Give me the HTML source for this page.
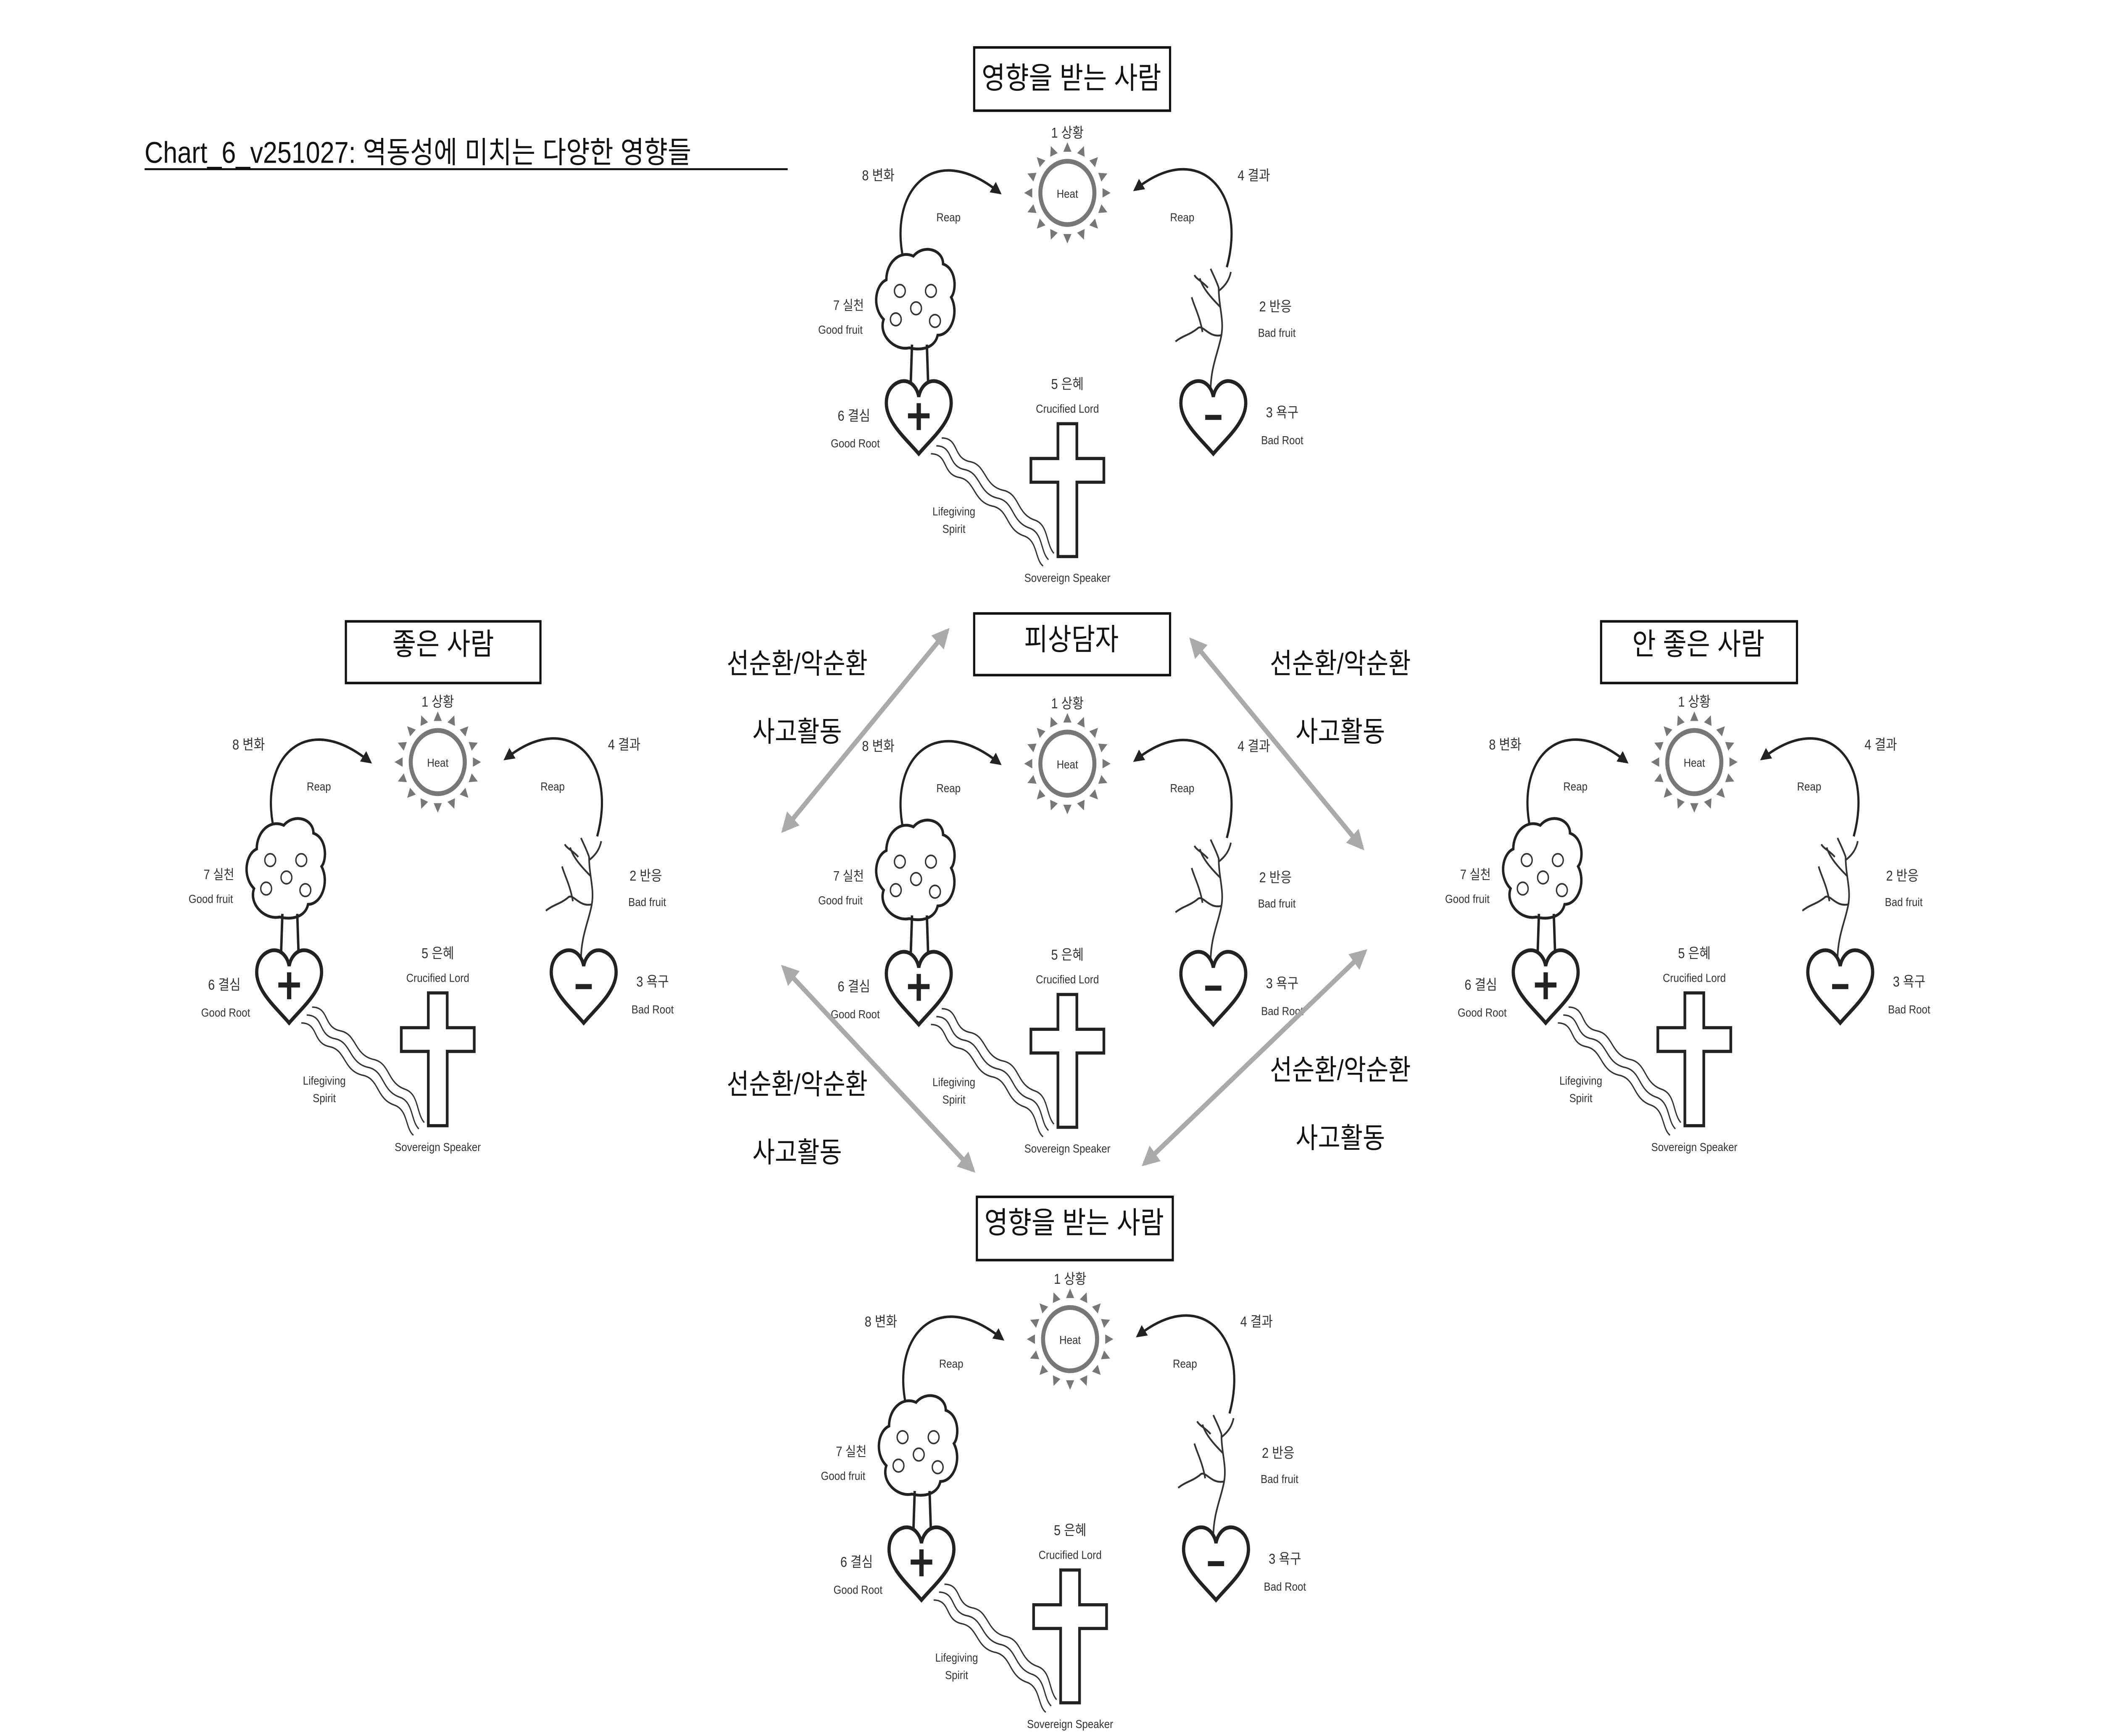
<!DOCTYPE html>
<html><head><meta charset="utf-8"><style>
html,body{margin:0;padding:0;background:#fff;width:100%;height:100%;overflow:hidden;}
svg{display:block;position:absolute;left:0;top:0;width:100vw;height:100vh;}
text{font-family:"Liberation Sans","Noto Sans CJK KR",sans-serif;}
</style></head><body>
<svg viewBox="0 0 1555 1098" preserveAspectRatio="none" xmlns="http://www.w3.org/2000/svg">
<defs>
<marker id="ah" viewBox="0 0 10 10" refX="8" refY="5" markerWidth="5" markerHeight="5" orient="auto"><path d="M0,0 L10,5 L0,10 Z" fill="#222"/></marker>
<marker id="ga" viewBox="0 0 10 10" refX="8" refY="5" markerWidth="4" markerHeight="4" orient="auto-start-reverse"><path d="M0,0 L10,5 L0,10 Z" fill="#aaa"/></marker>
<g id="cl">
<text x="0" y="-35" font-size="9" text-anchor="middle" fill="#333">1 상황</text>
<circle cx="0" cy="0" r="20" fill="none" stroke="#777" stroke-width="3"/>
<text x="0" y="3" font-size="7.5" text-anchor="middle" fill="#333">Heat</text>
<g fill="#777">
<path d="M-3,-26 L3,-26 L0,-32 Z"/>
<path d="M-3,-26 L3,-26 L0,-32 Z" transform="rotate(22.5)"/>
<path d="M-3,-26 L3,-26 L0,-32 Z" transform="rotate(45)"/>
<path d="M-3,-26 L3,-26 L0,-32 Z" transform="rotate(67.5)"/>
<path d="M-3,-26 L3,-26 L0,-32 Z" transform="rotate(90)"/>
<path d="M-3,-26 L3,-26 L0,-32 Z" transform="rotate(112.5)"/>
<path d="M-3,-26 L3,-26 L0,-32 Z" transform="rotate(135)"/>
<path d="M-3,-26 L3,-26 L0,-32 Z" transform="rotate(157.5)"/>
<path d="M-3,-26 L3,-26 L0,-32 Z" transform="rotate(180)"/>
<path d="M-3,-26 L3,-26 L0,-32 Z" transform="rotate(202.5)"/>
<path d="M-3,-26 L3,-26 L0,-32 Z" transform="rotate(225)"/>
<path d="M-3,-26 L3,-26 L0,-32 Z" transform="rotate(247.5)"/>
<path d="M-3,-26 L3,-26 L0,-32 Z" transform="rotate(270)"/>
<path d="M-3,-26 L3,-26 L0,-32 Z" transform="rotate(292.5)"/>
<path d="M-3,-26 L3,-26 L0,-32 Z" transform="rotate(315)"/>
<path d="M-3,-26 L3,-26 L0,-32 Z" transform="rotate(337.5)"/>
</g>
<text x="-140" y="-8" font-size="9" text-anchor="middle" fill="#333">8 변화</text>
<text x="138" y="-8" font-size="9" text-anchor="middle" fill="#333">4 결과</text>
<text x="-88" y="18" font-size="7.5" text-anchor="middle" fill="#333">Reap</text>
<text x="85" y="18" font-size="7.5" text-anchor="middle" fill="#333">Reap</text>
<path d="M-120,47 C-135,0 -100,-35 -50,0" fill="none" stroke="#222" stroke-width="1.6" marker-end="url(#ah)"/>
<path d="M118,47 C133,0 98,-35 50,-2" fill="none" stroke="#222" stroke-width="1.6" marker-end="url(#ah)"/>
<path d="M-117,98 C-128,100 -140,90 -136,80 C-145,72 -142,58 -134,55 C-134,44 -124,36 -114,40 C-106,32 -92,36 -92,45 C-82,48 -82,62 -86,66 C-80,76 -86,90 -96,90 C-98,98 -108,100 -117,98 Z" fill="#fff" stroke="#222" stroke-width="1.8"/>
<path d="M-115,96 L-116,122 M-104,96 L-103,122" stroke="#222" stroke-width="1.8" fill="none"/>
<g fill="none" stroke="#333" stroke-width="1">
<circle cx="-124" cy="62" r="4"/><circle cx="-101" cy="62" r="4"/><circle cx="-112" cy="73" r="4"/><circle cx="-127" cy="80" r="4"/><circle cx="-98" cy="81" r="4"/>
</g>
<text x="-162" y="74" font-size="8.5" text-anchor="middle" fill="#333">7 실천</text>
<text x="-168" y="89" font-size="7.5" text-anchor="middle" fill="#333">Good fruit</text>
<g transform="translate(-110,143)">
<path d="M0,22 C-10,12 -24,2 -24,-10 C-24,-20 -16,-24 -11,-24 C-5,-24 -1,-19 0,-14 C1,-19 5,-24 11,-24 C16,-24 24,-20 24,-10 C24,2 10,12 0,22 Z" fill="#fff" stroke="#222" stroke-width="2.4"/>
<path d="M-8,-2 H8 M0,-10 V7" stroke="#222" stroke-width="3.2"/>
</g>
<text x="-158" y="144" font-size="9" text-anchor="middle" fill="#333">6 결심</text>
<text x="-157" y="161" font-size="7.5" text-anchor="middle" fill="#333">Good Root</text>
<g fill="none" stroke="#333" stroke-width="0.9">
<path d="M-93,155 C-80,155 -85,168 -72,170 C-60,172 -62,185 -48,188 C-35,190 -38,203 -24,207 C-14,210 -16,222 -10,228"/>
<path d="M-97,160 C-84,160 -89,173 -76,175 C-64,177 -66,190 -52,193 C-39,195 -42,208 -28,212 C-18,215 -20,227 -14,232"/>
<path d="M-101,165 C-88,165 -93,178 -80,180 C-68,182 -70,195 -56,198 C-43,200 -46,213 -32,217 C-22,220 -24,232 -18,236"/>
</g>
<text x="-84" y="204" font-size="7.5" text-anchor="middle" fill="#333">Lifegiving</text>
<text x="-84" y="215" font-size="7.5" text-anchor="middle" fill="#333">Spirit</text>
<text x="0" y="124" font-size="9" text-anchor="middle" fill="#333">5 은혜</text>
<text x="0" y="139" font-size="7.5" text-anchor="middle" fill="#333">Crucified Lord</text>
<path d="M-7,146 H7 V168 H27 V183 H7 V230 H-7 V183 H-27 V168 H-7 Z" fill="#fff" stroke="#222" stroke-width="2"/>
<text x="0" y="246" font-size="7.5" text-anchor="middle" fill="#333">Sovereign Speaker</text>
<g fill="none" stroke="#333" stroke-width="1.2">
<path d="M106,125 C106,110 112,100 114,90 C116,80 112,72 112,60 C110,55 108,52 106,48"/>
<path d="M114,90 C104,92 100,82 96,86 C90,90 86,90 80,94"/>
<path d="M100,88 C98,78 94,72 92,66"/>
<path d="M113,72 C106,66 100,60 98,54"/>
<path d="M112,62 C118,58 120,54 121,50"/>
<path d="M104,60 C100,56 96,55 94,52"/>
</g>
<g transform="translate(108,143)">
<path d="M0,22 C-10,12 -24,2 -24,-10 C-24,-20 -16,-24 -11,-24 C-5,-24 -1,-19 0,-14 C1,-19 5,-24 11,-24 C16,-24 24,-20 24,-10 C24,2 10,12 0,22 Z" fill="#fff" stroke="#222" stroke-width="2.4"/>
<path d="M-6,-1 H6" stroke="#222" stroke-width="3.2"/>
</g>
<text x="154" y="75" font-size="9" text-anchor="middle" fill="#333">2 반응</text>
<text x="155" y="91" font-size="7.5" text-anchor="middle" fill="#333">Bad fruit</text>
<text x="159" y="142" font-size="9" text-anchor="middle" fill="#333">3 욕구</text>
<text x="159" y="159" font-size="7.5" text-anchor="middle" fill="#333">Bad Root</text>
</g>
</defs>
<text x="107" y="103" font-size="19" fill="#111">Chart_6_v251027: 역동성에 미치는 다양한 영향들</text>
<line x1="107" y1="107" x2="583" y2="107" stroke="#111" stroke-width="1.2"/>

<use href="#cl" x="790" y="122"/>
<use href="#cl" x="790" y="483"/>
<use href="#cl" x="324" y="482"/>
<use href="#cl" x="1254" y="482"/>
<use href="#cl" x="792" y="847"/>

<g fill="#fff" stroke="#111" stroke-width="1.6">
<rect x="721" y="30" width="145" height="40"/>
<rect x="256" y="393" width="144" height="39"/>
<rect x="721" y="388" width="145" height="39"/>
<rect x="1185" y="393" width="145" height="39"/>
<rect x="723" y="757" width="145" height="40"/>
</g>
<g font-size="19" text-anchor="middle" fill="#111">
<text x="793" y="56">영향을 받는 사람</text>
<text x="328" y="414">좋은 사람</text>
<text x="793" y="411">피상담자</text>
<text x="1257" y="414">안 좋은 사람</text>
<text x="795" y="780">영향을 받는 사람</text>
</g>

<g stroke="#aaa" stroke-width="3.2" marker-start="url(#ga)" marker-end="url(#ga)">
<line x1="580" y1="525" x2="701" y2="399"/>
<line x1="882" y1="405" x2="1008" y2="536"/>
<line x1="580" y1="612" x2="720" y2="740"/>
<line x1="847" y1="736" x2="1010" y2="602"/>
</g>
<g font-size="18" text-anchor="middle" fill="#111">
<text x="590" y="426">선순환/악순환</text>
<text x="590" y="469">사고활동</text>
<text x="992" y="426">선순환/악순환</text>
<text x="992" y="469">사고활동</text>
<text x="590" y="692">선순환/악순환</text>
<text x="590" y="735">사고활동</text>
<text x="992" y="683">선순환/악순환</text>
<text x="992" y="726">사고활동</text>
</g>
</svg>
</body></html>
